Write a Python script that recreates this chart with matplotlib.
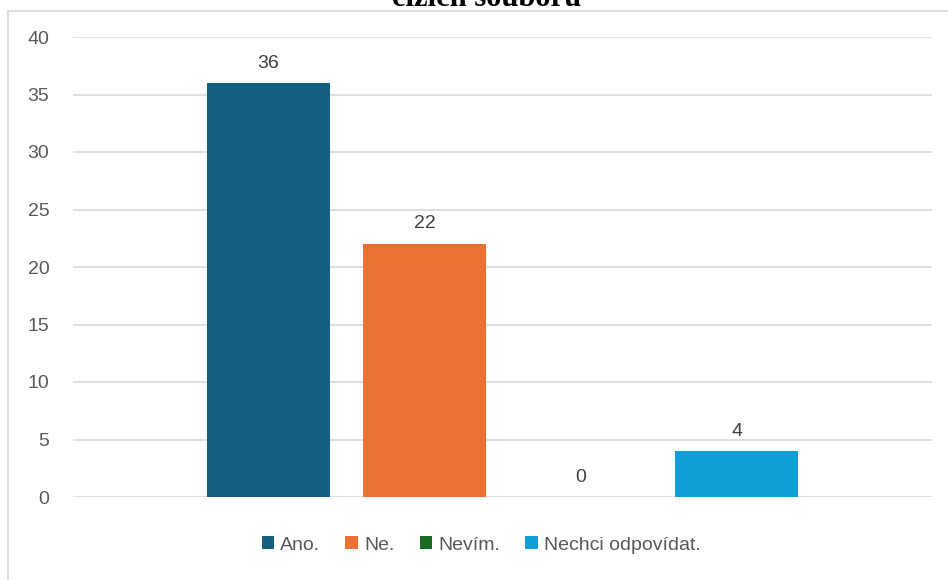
import matplotlib.pyplot as plt
from matplotlib.patches import Rectangle, Patch

# survey answers and counts
categories = ["Ano.", "Ne.", "Nevím.", "Nechci odpovídat."]
counts = [36, 22, 0, 4]
colors = ["#156082", "#E97132", "#196B24", "#0F9ED5"]
yticks = [0, 5, 10, 15, 20, 25, 30, 35, 40]
title = "cizích souborů"

W, H = 948, 580
plt.rcParams['font.family'] = ['Liberation Sans', 'DejaVu Sans']
fig = plt.figure(figsize=(W / 100, H / 100), dpi=100)

# chart frame, runs off the right and bottom edges
fig.patches.append(Rectangle((8 / W, -0.1), 1.2, 1.1 - 11 / H,
                             transform=fig.transFigure, fill=False,
                             edgecolor="#D9D9D9", linewidth=1.2))

ax = fig.add_axes([73 / W, 83 / H, (932 - 73) / W, (497 - 37) / H])
x = list(range(len(categories)))
width = 123 / 156
bars = ax.bar(x, counts, width=width, color=colors, zorder=3)

for xi, v in zip(x, counts):
    ax.text(xi, v + 1.0, str(v), ha="center", va="bottom",
            fontsize=14, color="#404040")

half = (502.5 - 73) / 156
ax.set_xlim(1.5 - half, 1.5 + half)
ax.set_ylim(0, 40)
ax.set_yticks(yticks)
ax.set_xticks([])
ax.yaxis.grid(True, color="#D9D9D9", linewidth=1.2, zorder=0)
for s in ax.spines.values():
    s.set_visible(False)
ax.tick_params(axis="y", length=0, pad=17, labelsize=14, labelcolor="#595959")

fig.text(487 / W, 1 - 6 / H, title, ha="center", va="baseline",
         fontsize=22, fontweight="bold", family="Liberation Serif")

handles = [Patch(facecolor=c, label=l) for c, l in zip(colors, categories)]
fig.legend(handles=handles, loc="center", bbox_to_anchor=(481 / W, 1 - 545 / H),
           ncol=4, frameon=False, fontsize=14, handlelength=0.65, handleheight=0.65,
           handletextpad=0.3, columnspacing=1.3, labelcolor="#595959")

fig.savefig("out.png", dpi=100)
